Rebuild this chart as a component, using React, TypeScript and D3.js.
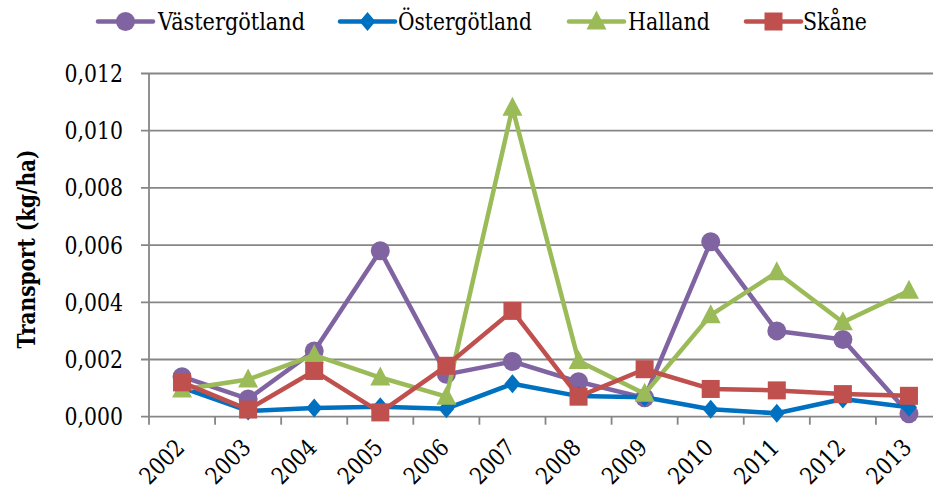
import React from "react";
import * as d3 from "d3";

const years = ["2002","2003","2004","2005","2006","2007","2008","2009","2010","2011","2012","2013"];
const vastergotland = [0.0014,0.00062,0.0023,0.0058,0.00148,0.00193,0.00122,0.00066,0.00612,0.0030,0.0027,0.0001];
const ostergotland = [0.00102,0.0002,0.0003,0.00035,0.00028,0.00115,0.00072,0.00068,0.00026,0.00012,0.00062,0.00033];
const halland = [0.00095,0.0013,0.00215,0.00137,0.0007,0.0108,0.00195,0.0008,0.00355,0.00505,0.0033,0.0044];
const skane = [0.0012,0.00025,0.0016,0.00015,0.00178,0.0037,0.0007,0.00166,0.00097,0.00092,0.00079,0.00073];
const yTicks = [0,0.002,0.004,0.006,0.008,0.010,0.012];
const seriesNames = ["Västergötland","Östergötland","Halland","Skåne"];

const colors = ["#8064A2","#0070C0","#9BBB59","#C0504D"];
const shapes = ["circle","diamond","triangle","square"];

const W = 933, H = 492;
const left = 149, right = 942, top = 73.5, bottom = 416.7;
const ts = { fontFamily: "DejaVu Serif" };
const FS = 23.5;
// target text widths (px) matching a Times-like face at 26px
const legendWidths = [147, 134, 82, 64];
const tickLabelWidth = 58.5;
const yearWidth = 52;
const titleWidth = 199;

function Marker({ shape, x, y, color }: { shape: string; x: number; y: number; color: string }) {
  if (shape === "circle") return <circle cx={x} cy={y} r={9.5} fill={color} />;
  if (shape === "square") return <rect x={x - 9} y={y - 9} width={18} height={18} fill={color} />;
  if (shape === "diamond") return <path d={`M${x},${y - 9.5}L${x + 8},${y}L${x},${y + 9.5}L${x - 8},${y}Z`} fill={color} />;
  return <path d={`M${x},${y - 11}L${x + 10},${y + 8}L${x - 10},${y + 8}Z`} fill={color} />;
}

export default function App() {
  const x = d3.scaleBand<string>().domain(years).range([left, right]);
  const y = d3.scaleLinear().domain([0, 0.012]).range([bottom, top]);
  const data = [vastergotland, ostergotland, halland, skane];
  const line = d3.line<number>().x((_, i) => (x(years[i]) as number) + x.bandwidth() / 2).y((d) => y(d));
  const fmt = (v: number) => v.toFixed(3).replace(".", ",");
  const legendX = [{ l: 98, t: 158 }, { l: 340, t: 398 }, { l: 569, t: 628 }, { l: 746, t: 803 }];

  return (
    <svg width={W} height={H} style={{ position: "absolute", left: 0, top: 0, background: "#fff" }}>
      <rect width={W} height={H} fill="#fff" />
      {yTicks.map((t) => (
        <g key={t}>
          <line x1={left - 8} x2={right} y1={y(t)} y2={y(t)} stroke="#868686" strokeWidth={1.8} />
          <text x={123} y={y(t)} dy="0.36em" textAnchor="end" fontSize={FS} fill="#000" style={ts}
            textLength={tickLabelWidth} lengthAdjust="spacingAndGlyphs">{fmt(t)}</text>
        </g>
      ))}
      <line x1={left} x2={left} y1={top} y2={bottom} stroke="#868686" strokeWidth={1.8} />
      {d3.range(years.length + 1).map((i) => {
        const xx = left + i * x.step();
        return <line key={i} x1={xx} x2={xx} y1={bottom} y2={bottom + 8} stroke="#868686" strokeWidth={1.8} />;
      })}
      {years.map((yr) => {
        const cx = (x(yr) as number) + x.bandwidth() / 2;
        return (
          <text key={yr} transform={`translate(${cx + 4},${449}) rotate(-45)`} textAnchor="end" fontSize={FS} fill="#000" style={ts}
            textLength={yearWidth} lengthAdjust="spacingAndGlyphs">{yr}</text>
        );
      })}
      <text transform={`translate(35,249) rotate(-90)`} textAnchor="middle" fontSize={FS} fontWeight="bold" fill="#000" style={ts}
        textLength={titleWidth} lengthAdjust="spacingAndGlyphs">Transport (kg/ha)</text>
      {data.map((s, k) => (
        <g key={k}>
          <path d={line(s) as string} fill="none" stroke={colors[k]} strokeWidth={4.5} strokeLinejoin="round" />
          {s.map((v, i) => (
            <Marker key={i} shape={shapes[k]} x={(x(years[i]) as number) + x.bandwidth() / 2} y={y(v)} color={colors[k]} />
          ))}
        </g>
      ))}
      {seriesNames.map((n, k) => (
        <g key={n}>
          <line x1={legendX[k].l} x2={legendX[k].l + 55} y1={21.5} y2={21.5} stroke={colors[k]} strokeWidth={4.5} strokeLinecap="round" />
          <Marker shape={shapes[k]} x={legendX[k].l + 27.5} y={21.5} color={colors[k]} />
          <text x={legendX[k].t} y={30} fontSize={FS} fill="#000" style={ts}
            textLength={legendWidths[k]} lengthAdjust="spacingAndGlyphs">{n}</text>
        </g>
      ))}
    </svg>
  );
}
